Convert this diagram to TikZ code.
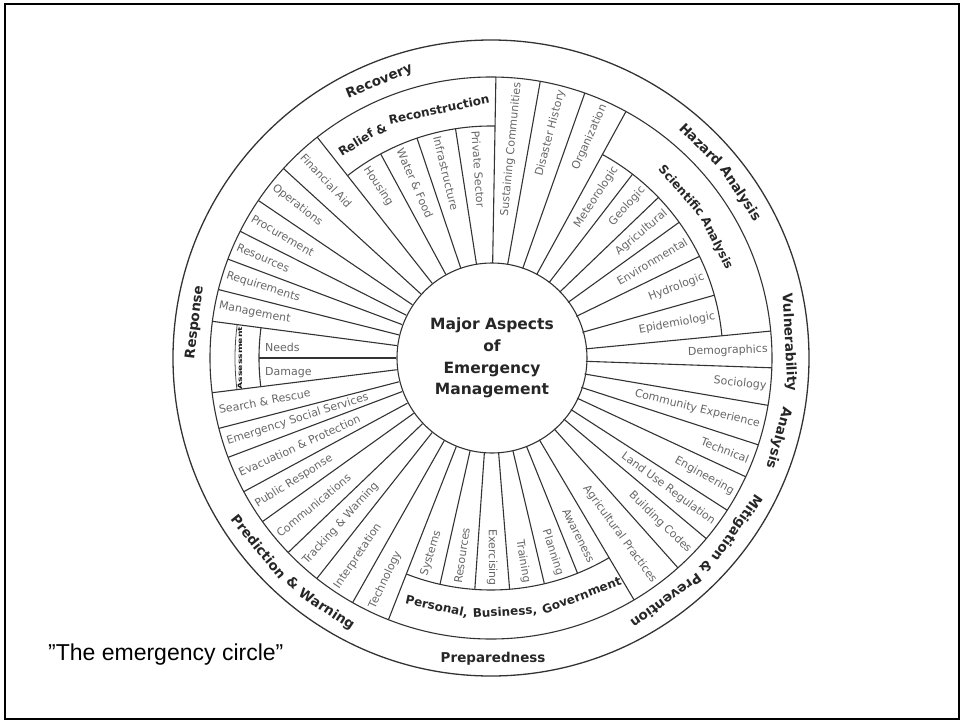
\documentclass[tikz,border=0pt]{standalone}
\usepackage{fontspec}
\setmainfont{DejaVu Sans}
\newfontfamily\capfont{Liberation Sans}
\tikzset{
  ln/.style={draw=black!80, line width=1.1pt},
  lab/.style={font=\fontsize{11}{13}\selectfont, text=black!60, inner sep=0pt},
  ringword/.style={font=\bfseries\fontsize{13.5}{16}\selectfont, text=black!85, inner sep=0pt, anchor=base},
  bandword/.style={font=\bfseries\fontsize{12}{14}\selectfont, text=black!85, inner sep=0pt, anchor=base}
}
\begin{document}
\begin{tikzpicture}[x=1pt,y=1pt]
\useasboundingbox (-491,-363) rectangle (470,358);
\draw[line width=2pt] (-486,354) rectangle (468,-361);

% circles
\draw[draw=black!80, line width=1.3pt] (0,0) circle[radius=318];
\draw[ln] (0,0) circle[radius=281];
\node[draw=black!80, line width=1.1pt, circle, minimum size=190pt, inner sep=0pt, align=center,
      font=\bfseries\fontsize{15.5}{21.7}\selectfont, text=black!85] (core) at (1,0)
      {Major Aspects\\of\\Emergency\\Management};

% full spokes
\foreach \a in {89,79.9,70.5,61.3,5.5,-2,-9.7,-18,-25,-32.8,-40,-48.3,-59.4,
                -111.4,-119.5,-128.3,-136.2,-144.4,-151.6,-159.3,-165.5,-172.9,
                172.5,165.9,159.4,153.2,145.9,137.6,128.2}
  \draw[ln] (\a:95) -- (\a:281);
% short spokes inside bands
\foreach \a in {52.4,43.8,35.8,26,15.7,-68.1,-76.7,-85.4,-94,-102.7,180,118.4,108.6,98.8}
  \draw[ln] (\a:95) -- (\a:232);
% band arcs
\draw[ln] (61.3:232) arc[start angle=61.3, end angle=5.5, radius=232];
\draw[ln] (-111.4:232) arc[start angle=-111.4, end angle=-59.4, radius=232];
\draw[ln] (172.5:232) arc[start angle=172.5, end angle=187.1, radius=232];
\draw[ln] (128.2:232) arc[start angle=128.2, end angle=89, radius=232];
\draw[draw=black!70, line width=0.8pt] (172.5:256) arc[start angle=172.5, end angle=187.1, radius=256];

% spoke labels, right half
\foreach \a/\r/\w [count=\i] in {84.45/277/Sustaining Communities, 75.2/277/Disaster History,
   65.9/277/Organization, 56.85/228/Meteorologic, 48.1/228/Geologic, 39.8/228/Agricultural,
   30.9/228/Environmental, 20.85/228/Hydrologic, 10.6/228/Epidemiologic, 1.75/277/Demographics,
   -5.85/277/Sociology, -13.85/277/Community Experience, -21.5/277/Technical,
   -28.9/277/Engineering, -36.4/277/Land Use Regulation, -44.15/277/Building Codes,
   -53.85/277/Agricultural Practices, -63.75/228/Awareness, -72.4/228/Planning,
   -81.05/228/Training, -89.7/228/Exercising}
  \node[lab, rotate=\a, anchor=east] (r\i) at (\a:\r) {\w};
% spoke labels, left half
\foreach \a/\r/\w [count=\i] in {-98.35/228/Resources, -107.05/228/Systems,
   -115.45/277/Technology, -123.9/277/Interpretation, -132.25/277/Tracking \& Warning,
   -140.3/277/Communications, -148/277/Public Response, -155.45/277/Evacuation \& Protection,
   -162.4/277/Emergency Social Services, -169.2/277/Search \& Rescue,
   169.2/277/Management, 162.65/277/Requirements, 156.3/277/Resources,
   149.55/277/Procurement, 141.75/277/Operations, 132.9/277/Financial Aid,
   123.3/228/Housing, 113.5/228/Water \& Food, 103.7/228/Infrastructure, 93.9/228/Private Sector}
  \node[lab, rotate=\a+180, anchor=west] (l\i) at (\a:\r) {\w};

\node[lab, anchor=west] (needs) at (-226,11) {Needs};
\node[lab, anchor=west] (damage) at (-226,-15) {Damage};
\node[font=\bfseries\fontsize{6}{7}\selectfont, text=black!90, inner sep=0pt, rotate=90, xscale=1.55] (assess) at (-251,0) {Assessment};

% outer ring labels (word by word along the ring)
\foreach \a/\w [count=\i] in {112/Recovery, 45.5/Hazard, 33.4/Analysis, 3/Vulnerability,
   -15.5/Analysis, -34.7/Mitigation, -44.2/\&, -54.2/Prevention, 173.1/Response}
  \node[ringword, rotate=\a-90] (cw\i) at (\a:294.6) {\w};
\foreach \a/\w [count=\i] in {-89.6/Preparedness, 219.1/Prediction, 228.6/\&, 236.8/Warning}
  \node[ringword, rotate=\a+90] (ccw\i) at (\a:304.4) {\w};

% band labels
\foreach \a/\w [count=\i] in {122.1/Relief, 115.6/\&, 101.8/Reconstruction, 41.3/Scientific, 26.9/Analysis}
  \node[bandword, rotate=\a-90] (bcw\i) at (\a:249.6) {\w};
\foreach \a/\w [count=\i] in {-102.3/{Personal,}, -86.84/{Business,}, -69.1/Government}
  \node[bandword, rotate=\a+90] (bccw\i) at (\a:258.4) {\w};

% caption
\node[font=\capfont\fontsize{23}{27}\selectfont, anchor=west, inner sep=0pt] (cap) at (-443,-297) {”The emergency circle”};
\end{tikzpicture}
\end{document}
